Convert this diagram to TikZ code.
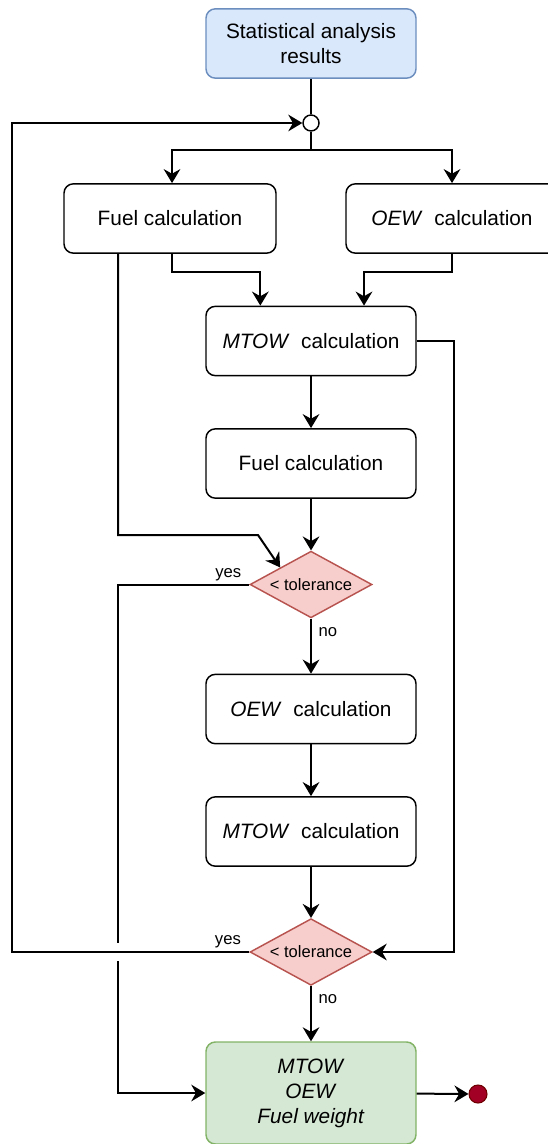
\documentclass[tikz,border=0pt]{standalone}
\usepackage{fontspec}
\setmainfont{Liberation Sans}
\usetikzlibrary{arrows.meta, shapes.geometric, positioning, calc}

\definecolor{startfill}{HTML}{DAE8FC}
\definecolor{startdraw}{HTML}{6C8EBF}
\definecolor{checkfill}{HTML}{F8CECC}
\definecolor{checkdraw}{HTML}{B85450}
\definecolor{endfill}{HTML}{D5E8D4}
\definecolor{enddraw}{HTML}{82B366}
\definecolor{stopfill}{HTML}{A20025}
\definecolor{stopdraw}{HTML}{6F0000}

\tikzset{
  calcbox/.style 2 args={
    rectangle, rounded corners=7pt,
    minimum width=157.5pt, minimum height=52pt,
    align=center, font=\fontsize{15.6}{18.8}\selectfont,
    draw=#1, fill=#2, line width=1.1pt
  },
  checknode/.style={
    diamond, aspect=1.8, inner sep=0pt,
    minimum width=91.5pt, minimum height=50pt,
    font=\fontsize{12.4}{14}\selectfont,
    draw=checkdraw, fill=checkfill, line width=1.1pt
  },
  junction/.style={
    circle, minimum size=12pt, inner sep=0pt,
    draw=black, fill=white, line width=1.1pt
  },
  stopdot/.style={
    circle, minimum size=13.5pt, inner sep=0pt,
    draw=stopdraw, fill=stopfill, line width=0.8pt
  },
  flow/.style={-{Stealth[length=10.5pt, width=12.5pt, inset=3.5pt]}, line width=1.5pt},
  link/.style={line width=1.5pt},
  lbl/.style={font=\fontsize{12.5}{14}\selectfont, inner sep=2pt},
}

\begin{document}
\begin{tikzpicture}[x=0.75pt, y=-0.75pt]
    \useasboundingbox (0,0) rectangle (548,1144);

    \node[calcbox={startdraw}{startfill}] (stats) at (311,43.5) {Statistical analysis\\results};
    \node[junction] (junc) at (311,123) {};
    \node[calcbox={black}{white}, minimum width=159pt] (fuelA) at (170,218.5) {Fuel calculation};
    \node[calcbox={black}{white}, minimum width=159pt] (oewA)  at (452,218.5) {\textit{OEW}\ \ calculation};
    \node[calcbox={black}{white}] (mtowA) at (311,341)   {\textit{MTOW}\ \ calculation};
    \node[calcbox={black}{white}] (fuelB) at (311,463.5) {Fuel calculation};
    \node[checknode] (tolA) at (311,584.5) {< tolerance};
    \node[calcbox={black}{white}] (oewB)  at (311,709)   {\textit{OEW}\ \ calculation};
    \node[calcbox={black}{white}] (mtowB) at (311,831.5) {\textit{MTOW}\ \ calculation};
    \node[checknode] (tolB) at (311,952) {< tolerance};
    \node[calcbox={enddraw}{endfill}, minimum height=76.5pt] (result) at (311,1093)
        {\textit{MTOW}\\\textit{OEW}\\\textit{Fuel weight}};
    \node[stopdot] (stop) at (478,1094) {};

    \coordinate (split) at (311,150);
    \coordinate (kink) at (258,535);

    % start and split
    \draw[link] (stats) -- (junc);
    \draw[link] (junc) -- (split);
    \draw[flow] (split) -| ([xshift=1.5pt]fuelA.north);
    \draw[flow] (split) -| (oewA.north);

    % first pass
    \draw[flow] ([xshift=1.5pt]fuelA.south) -- ++(0,18) -| ([xshift=-38pt]mtowA.north);
    \draw[flow] (oewA.south) -- ++(0,18) -| ([xshift=39.75pt]mtowA.north);
    \draw[flow] ([xshift=-39pt]fuelA.south) |- (kink) -- (tolA.north west);
    \draw[flow] (mtowA) -- (fuelB);
    \draw[flow] (fuelB) -- (tolA);
    \draw[flow] (mtowA.east) -- ++(37,0) |- (tolB.east);

    % second pass
    \draw[flow] (tolA) -- node[lbl, right, pos=0.25, xshift=3pt] {no} (oewB);
    \draw[flow] (oewB) -- (mtowB);
    \draw[flow] (mtowB) -- (tolB);
    \draw[flow] (tolB) -- node[lbl, right, pos=0.23, xshift=3pt] {no} (result);

    % exits and loop back
    \draw[flow] (tolA.west) -- node[lbl, above, pos=0.16] {yes} ++(-131,0) |- (result.west);
    \fill[white] (115,943) rectangle (123,961);
    \draw[flow] (tolB.west) -- node[lbl, above, pos=0.09] {yes} ++(-237,0) |- (junc.west);
    \draw[flow] (result) -- (stop);
\end{tikzpicture}
\end{document}
